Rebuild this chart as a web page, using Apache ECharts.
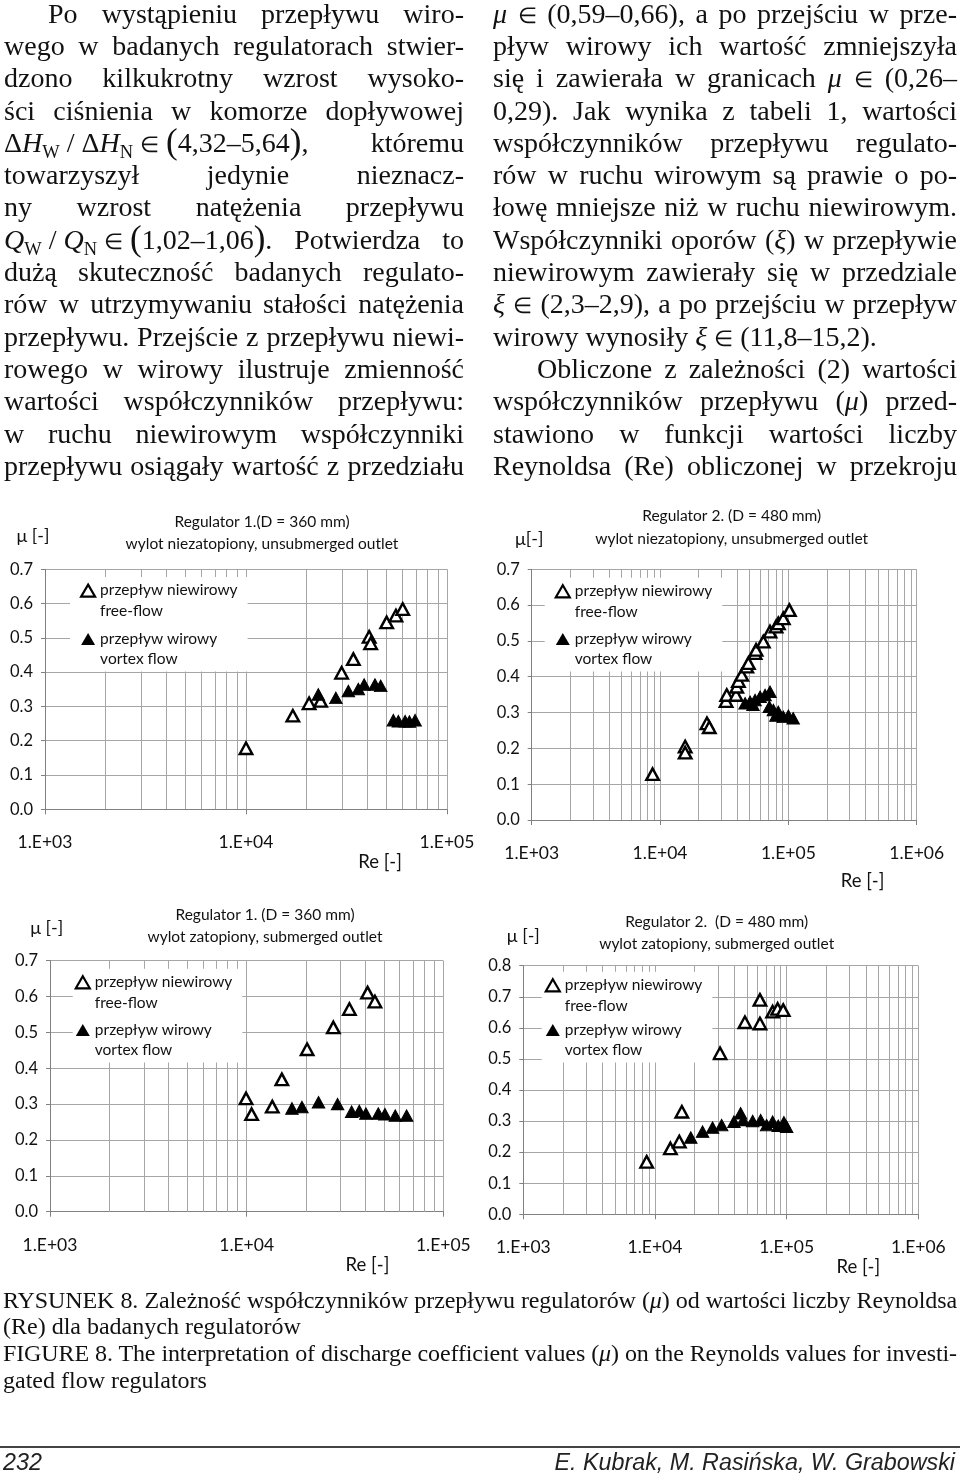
<!DOCTYPE html>
<html><head><meta charset="utf-8">
<script src="https://cdn.jsdelivr.net/npm/echarts@6/dist/echarts.min.js"></script>
<style>
html,body{margin:0;padding:0;background:#fff;}
body{width:960px;height:1477px;position:relative;overflow:hidden;font-family:"Liberation Serif","Times New Roman",serif;color:#111;}
#chart{position:absolute;left:0;top:0;width:960px;height:1477px;}
.col{position:absolute;top:-2.3px;font-size:28px;line-height:32.3px;}
.col>div,.cap>div{height:32.3px;text-align:justify;text-align-last:justify;}
.col>div.last,.cap>div.last{text-align:left;text-align-last:left;}
.ind{text-indent:44px;}
sub{font-size:0.66em;vertical-align:-0.32em;line-height:0;}
.bp{font-size:1.25em;line-height:0;vertical-align:-0.04em;}
.in{font-size:0.8em;}
.m{display:inline-block;white-space:nowrap;}
.cap{position:absolute;left:3px;top:1286.5px;width:954px;font-size:24px;line-height:26.7px;}
.cap>div{height:26.7px;}
#rule{position:absolute;left:0;top:1446px;width:960px;height:2px;background:#444;}
.foot{position:absolute;top:1448.5px;font-family:"Liberation Sans",Arial,sans-serif;font-style:italic;font-size:23.3px;line-height:27px;color:#222;}
</style></head>
<body>
<div id="chart"></div>

<div class="col" style="left:4px;width:460px">
<div class="ind">Po wystąpieniu przepływu wiro-</div>
<div>wego w badanych regulatorach stwier-</div>
<div>dzono kilkukrotny wzrost wysoko-</div>
<div>ści ciśnienia w komorze dopływowej</div>
<div><span class="m">Δ<i>H</i><sub>W</sub> / Δ<i>H</i><sub>N</sub> <span class="in">∈</span> <span class="bp">(</span>4,32–5,64<span class="bp">)</span>,</span> któremu</div>
<div>towarzyszył jedynie nieznacz-</div>
<div>ny wzrost natężenia przepływu</div>
<div><span class="m"><i>Q</i><sub>W</sub> / <i>Q</i><sub>N</sub> <span class="in">∈</span> <span class="bp">(</span>1,02–1,06<span class="bp">)</span>.</span> Potwierdza to</div>
<div>dużą skuteczność badanych regulato-</div>
<div>rów w utrzymywaniu stałości natężenia</div>
<div>przepływu. Przejście z przepływu niewi-</div>
<div>rowego w wirowy ilustruje zmienność</div>
<div>wartości współczynników przepływu:</div>
<div>w ruchu niewirowym współczynniki</div>
<div>przepływu osiągały wartość z przedziału</div>
</div>

<div class="col" style="left:493px;width:464px">
<div><i>μ</i> <span class="in">∈</span> (0,59–0,66), a po przejściu w prze-</div>
<div>pływ wirowy ich wartość zmniejszyła</div>
<div>się i zawierała w granicach <i>μ</i> <span class="in">∈</span> (0,26–</div>
<div>0,29). Jak wynika z tabeli 1, wartości</div>
<div>współczynników przepływu regulato-</div>
<div>rów w ruchu wirowym są prawie o po-</div>
<div>łowę mniejsze niż w ruchu niewirowym.</div>
<div>Współczynniki oporów (<i>ξ</i>) w przepływie</div>
<div>niewirowym zawierały się w przedziale</div>
<div><i>ξ</i> <span class="in">∈</span> (2,3–2,9), a po przejściu w przepływ</div>
<div class="last">wirowy wynosiły <i>ξ</i> <span class="in">∈</span> (11,8–15,2).</div>
<div class="ind">Obliczone z zależności (2) wartości</div>
<div>współczynników przepływu (<i>μ</i>) przed-</div>
<div>stawiono w funkcji wartości liczby</div>
<div>Reynoldsa (Re) obliczonej w przekroju</div>
</div>

<div class="cap">
<div>RYSUNEK 8. Zależność współczynników przepływu regulatorów (<i>μ</i>) od wartości liczby Reynoldsa</div>
<div class="last">(Re) dla badanych regulatorów</div>
<div>FIGURE 8. The interpretation of discharge coefficient values (<i>μ</i>) on the Reynolds values for investi-</div>
<div class="last">gated flow regulators</div>
</div>

<div id="rule"></div>
<div class="foot" style="left:3px">232</div>
<div class="foot" style="right:5px">E. Kubrak, M. Rasińska, W. Grabowski</div>

<script>
// ---------- data (Re, mu) ----------
const r1uFreeRe = [10000, 17100, 20600, 23500, 29900, 34200, 41000, 41700, 50100, 55700, 60200];
const r1uFreeMu = [0.178, 0.273, 0.309, 0.316, 0.398, 0.438, 0.503, 0.484, 0.545, 0.565, 0.584];
const r1uVortRe = [22900, 28000, 32300, 36200, 38700, 43800, 46800, 54100, 57300, 61900, 65000, 69400];
const r1uVortMu = [0.335, 0.325, 0.345, 0.351, 0.364, 0.364, 0.360, 0.260, 0.257, 0.257, 0.256, 0.260];

const r2uFreeRe = [8750, 15700, 15700, 23200, 24200, 32700, 33100, 39100, 39600, 40800, 43300, 47400, 48800, 55000, 56000, 63800, 71900, 80100, 83500, 91300, 101800];
const r2uFreeMu = [0.128, 0.205, 0.188, 0.270, 0.259, 0.332, 0.349, 0.349, 0.372, 0.388, 0.405, 0.428, 0.438, 0.466, 0.475, 0.498, 0.526, 0.540, 0.549, 0.563, 0.586];
const r2uVortRe = [46000, 50300, 53000, 55000, 60200, 65800, 71900, 71100, 76400, 80000, 83500, 91400, 100000, 109000];
const r2uVortMu = [0.326, 0.330, 0.322, 0.335, 0.344, 0.349, 0.358, 0.316, 0.307, 0.292, 0.302, 0.288, 0.291, 0.284];

const r1sFreeRe = [9930, 10600, 13500, 15100, 20300, 27600, 33300, 41200, 44900];
const r1sFreeMu = [0.316, 0.272, 0.293, 0.369, 0.453, 0.514, 0.565, 0.611, 0.586];
const r1sVortRe = [17000, 19100, 23200, 29000, 34200, 37400, 40400, 46700, 50500, 57000, 65100];
const r1sVortMu = [0.288, 0.292, 0.305, 0.300, 0.279, 0.281, 0.274, 0.274, 0.272, 0.268, 0.268];

const r2sFreeRe = [8650, 13100, 15300, 16000, 31200, 48200, 62700, 62700, 78300, 85500, 94200];
const r2sFreeMu = [0.169, 0.212, 0.234, 0.330, 0.518, 0.618, 0.690, 0.614, 0.652, 0.661, 0.657];
const r2sVortRe = [18700, 23000, 27400, 32100, 39800, 44700, 46800, 55200, 63500, 70500, 78300, 86300, 95300, 100000];
const r2sVortMu = [0.247, 0.266, 0.279, 0.287, 0.298, 0.325, 0.303, 0.300, 0.303, 0.287, 0.298, 0.285, 0.296, 0.282];

const minorMult = [2, 3, 4, 5, 6, 7, 8, 9];
const decades2 = [1e3, 1e4];
const decades3 = [1e3, 1e4, 1e5];

const titles = [
  'Regulator 1.(D = 360 mm)\nwylot niezatopiony, unsubmerged outlet',
  'Regulator 2. (D = 480 mm)\nwylot niezatopiony, unsubmerged outlet',
  'Regulator 1. (D = 360 mm)\nwylot zatopiony, submerged outlet',
  'Regulator 2.  (D = 480 mm)\nwylot zatopiony, submerged outlet'
];
const yNames = ['μ [-]', 'μ[-]', 'μ [-]', 'μ [-]'];
const xName = 'Re [-]';
const FREE = 'przepływ niewirowy\nfree-flow';
const VORT = 'przepływ wirowy\nvortex flow';

// ---------- fit text lines ----------
document.querySelectorAll('.col>div, .cap>div').forEach(el => {
  const w = el.clientWidth - (el.classList.contains('ind') ? 44 : 0);
  const s = document.createElement('span');
  s.style.whiteSpace = 'nowrap';
  s.innerHTML = el.innerHTML;
  s.style.position = 'absolute'; s.style.visibility = 'hidden';
  el.parentNode.appendChild(s);
  const sw = s.getBoundingClientRect().width;
  s.remove();
  if (sw > w - 1) {
    const n = el.textContent.length;
    el.style.letterSpacing = ((w - 2 - sw) / n) + 'px';
  }
});

// ---------- chart ----------
const pairs = (a, b) => a.map((v, i) => [v, b[i]]);
const minorVals = d => d.flatMap(dec => minorMult.map(m => m * dec));
const GRIDC = '#a6a6a6';
const AXC = '#808080';
const FONT = 'Lato';
const ICON = 'path://M7,4.5L14,16.5L0,16.5Z M0,0L0,0 M14,41L14,41';

const panels = [
  { grid: {left: 45, top: 569.3, width: 402, height: 240}, xMax: 1e5, yMax: 0.7, dec: decades2,
    t: {cx: 262, top: 510.5, lh: 22}, yGap: 33.3, yPadR: 24, xGap: 35.7, xPadL: 268,
    lg: {left: 70, top: 577, gap: 6.3, pad: [2, 10, 2, 10]},
    free: pairs(r1uFreeRe, r1uFreeMu), vort: pairs(r1uVortRe, r1uVortMu) },
  { grid: {left: 531.7, top: 569.3, width: 385, height: 250.7}, xMax: 1e6, yMax: 0.7, dec: decades3,
    t: {cx: 731.7, top: 504, lh: 23}, yGap: 30.3, yPadR: 5, xGap: 51.5, xPadL: 276.6,
    lg: {left: 544.7, top: 577.7, gap: 5.7, pad: [2, 10, 2, 10]},
    free: pairs(r2uFreeRe, r2uFreeMu), vort: pairs(r2uVortRe, r2uVortMu) },
  { grid: {left: 50, top: 960.7, width: 393.3, height: 251}, xMax: 1e5, yMax: 0.7, dec: decades2,
    t: {cx: 265, top: 903.2, lh: 22.7}, yGap: 32.7, yPadR: 6.6, xGap: 31, xPadL: 241.6,
    lg: {left: 72.7, top: 968.7, gap: 5.7, pad: [2, 10, 2, 2]},
    free: pairs(r1sFreeRe, r1sFreeMu), vort: pairs(r1sVortRe, r1sVortMu) },
  { grid: {left: 523.3, top: 965.7, width: 395, height: 248.6}, xMax: 1e6, yMax: 0.8, dec: decades3,
    t: {cx: 716.7, top: 911, lh: 22.3}, yGap: 29.7, yPadR: 0, xGap: 39.2, xPadL: 275,
    lg: {left: 541.7, top: 971.7, gap: 2.7, pad: [2, 10, 2, 3]},
    free: pairs(r2sFreeRe, r2sFreeMu), vort: pairs(r2sVortRe, r2sVortMu) }
];

const option = {
  animation: false,
  textStyle: {fontFamily: FONT, color: '#111'},
  title: panels.map((p, i) => ({
    text: titles[i], left: p.t.cx, top: p.t.top, textAlign: 'center', padding: 0,
    textStyle: {fontSize: 15.5, fontWeight: 'normal', lineHeight: p.t.lh, color: '#111', fontFamily: FONT}
  })),
  legend: panels.map(p => ({
    orient: 'vertical', left: p.lg.left, top: p.lg.top, padding: p.lg.pad, itemGap: p.lg.gap,
    itemWidth: 14, itemHeight: 41, backgroundColor: '#fff', selectedMode: false, z: 4,
    textStyle: {fontSize: 15.5, lineHeight: 20.5, color: '#111', fontFamily: FONT},
    data: [
      {name: FREE, icon: ICON, itemStyle: {color: '#fff', borderColor: '#000', borderWidth: 2.2}},
      {name: VORT, icon: ICON, itemStyle: {color: '#000', borderColor: '#000', borderWidth: 0}}
    ]
  })),
  grid: panels.map(p => Object.assign({containLabel: false}, p.grid)),
  xAxis: panels.map((p, i) => ({
    type: 'log', logBase: 10, min: 1e3, max: p.xMax, gridIndex: i,
    axisLine: {show: true, lineStyle: {color: AXC, width: 1}},
    axisTick: {show: true, length: 5, lineStyle: {color: AXC}},
    splitLine: {show: true, lineStyle: {color: GRIDC, width: 1}},
    axisLabel: {fontSize: 17.5, margin: 24.5, color: '#111', fontFamily: FONT,
      formatter: v => '1.E+' + String(Math.round(Math.log10(v))).padStart(2, '0')},
    name: xName, nameLocation: 'middle', nameGap: p.xGap,
    nameTextStyle: {fontSize: 18.5, color: '#111', fontFamily: FONT, padding: [0, 0, 0, p.xPadL]}
  })),
  yAxis: panels.map((p, i) => ({
    type: 'value', min: 0, max: p.yMax, interval: 0.1, gridIndex: i,
    axisLine: {show: true, lineStyle: {color: AXC, width: 1}},
    axisTick: {show: true, length: 4, lineStyle: {color: AXC}},
    splitLine: {show: true, lineStyle: {color: GRIDC, width: 1}},
    axisLabel: {fontSize: 16.5, margin: 12, color: '#111', fontFamily: FONT, formatter: v => v.toFixed(1)},
    name: yNames[i], nameLocation: 'end', nameGap: p.yGap,
    nameTextStyle: {fontSize: 18, color: '#111', fontFamily: FONT, align: 'center', verticalAlign: 'middle', padding: [0, p.yPadR, 0, 0]}
  })),
  series: panels.flatMap((p, i) => [
    { type: 'scatter', name: FREE, xAxisIndex: i, yAxisIndex: i, silent: true, z: 3,
      symbol: 'triangle', symbolSize: [12.5, 11.5],
      itemStyle: {color: '#fff', borderColor: '#000', borderWidth: 2.4, opacity: 1},
      data: p.free,
      markLine: { silent: true, z: 1, symbol: ['none', 'none'], label: {show: false},
        lineStyle: {color: GRIDC, width: 1, type: 'solid'}, animation: false,
        data: minorVals(p.dec).map(v => ({xAxis: v})) } },
    { type: 'scatter', name: VORT, xAxisIndex: i, yAxisIndex: i, silent: true, z: 3,
      symbol: 'triangle', symbolSize: [12.5, 11.5],
      itemStyle: {color: '#000', borderColor: '#000', borderWidth: 1, opacity: 1},
      data: p.vort }
  ])
};

const chart = echarts.init(document.getElementById('chart'), null, {renderer: 'canvas'});
chart.setOption(option);
</script>
</body></html>
